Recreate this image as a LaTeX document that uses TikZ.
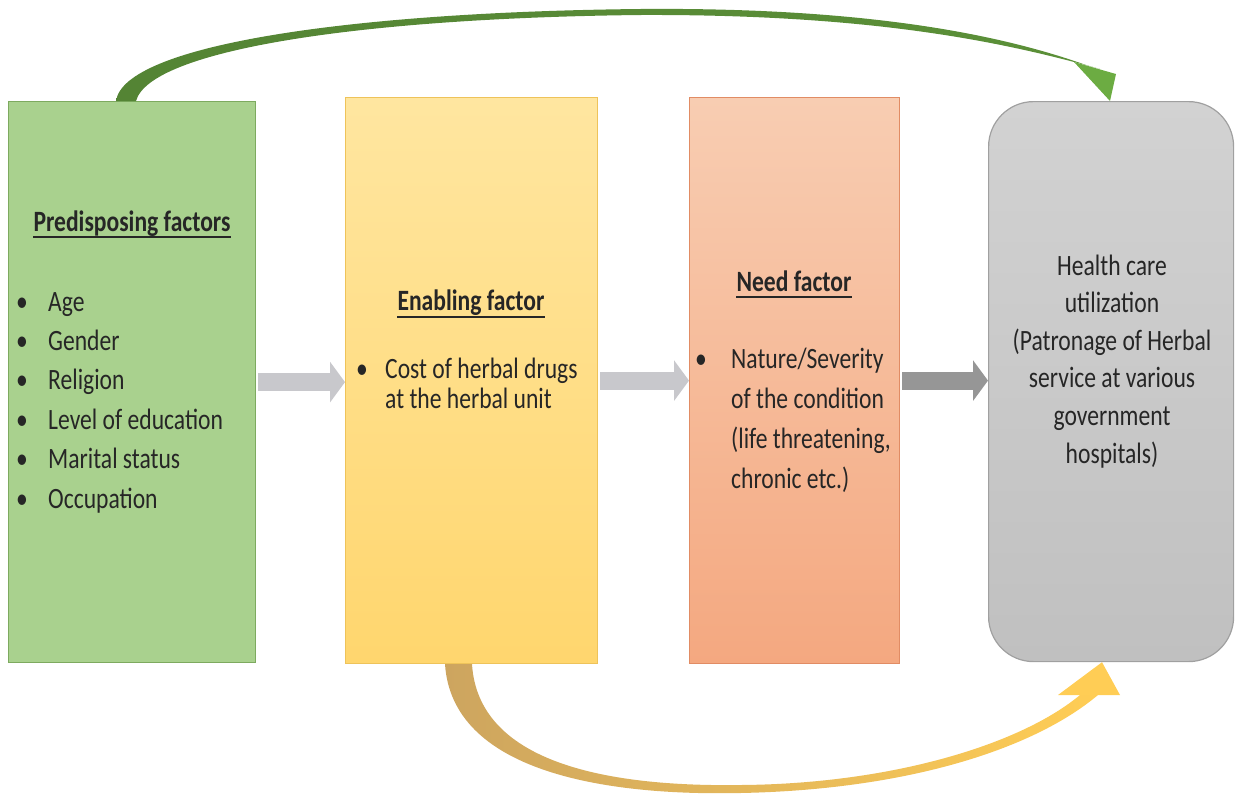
\documentclass[tikz,border=0pt]{standalone}
\usepackage{fontspec}
\setmainfont{Carlito}[FakeStretch=0.8]
\usetikzlibrary{arrows.meta, positioning, calc}
\definecolor{predfill}{RGB}{169,209,142}
\definecolor{preddraw}{RGB}{125,170,95}
\definecolor{enabtop}{RGB}{255,230,160}
\definecolor{enabbot}{RGB}{255,214,110}
\definecolor{enabdraw}{RGB}{238,195,90}
\definecolor{needtop}{RGB}{248,205,178}
\definecolor{needbot}{RGB}{244,168,128}
\definecolor{needdraw}{RGB}{225,140,100}
\definecolor{utiltop}{RGB}{210,210,210}
\definecolor{utilbot}{RGB}{192,192,192}
\definecolor{utildraw}{RGB}{160,160,160}
\definecolor{linkgray}{RGB}{200,200,204}
\definecolor{linkdark}{RGB}{150,150,150}
\definecolor{arcgreen}{RGB}{84,132,52}
\definecolor{arcgreenhead}{RGB}{108,172,66}
\definecolor{arctan}{RGB}{205,165,95}
\definecolor{arcgold}{RGB}{255,205,85}
\definecolor{txt}{RGB}{38,38,38}

\begin{document}
\begin{tikzpicture}[x=1pt, y=-1pt,
    box/.style={draw, line width=1.2pt, inner sep=0pt, anchor=north west},
    head/.style={font=\bfseries\fontsize{29.5}{34}\selectfont, text=txt, inner sep=0pt, anchor=base},
    item/.style={font=\fontsize{29.5}{34}\selectfont, text=txt, inner sep=0pt, anchor=base west},
    dot/.style={item, anchor=base},
    line/.style={item, anchor=base},
    link/.style={line width=18pt, linkgray, -{Triangle[length=15pt, width=40pt]}, shorten <=2pt},
    uline/.style={line width=1.8pt, txt},
]
\useasboundingbox (0,0) rectangle (1236,796);

% ===== boxes =====
\node[box, fill=predfill, draw=preddraw, minimum width=247pt, minimum height=561pt] (pred) at (8,101) {};
\node[box, top color=enabtop, bottom color=enabbot, draw=enabdraw, minimum width=252pt, minimum height=566pt] (enab) at (345,97) {};
\node[box, top color=needtop, bottom color=needbot, draw=needdraw, minimum width=210pt, minimum height=566pt] (need) at (689,97) {};
\node[box, top color=utiltop, bottom color=utilbot, draw=utildraw, rounded corners=45pt, minimum width=245pt, minimum height=560pt] (util) at (988,101) {};

% ===== Predisposing factors =====
\node[head] (predhead) at (132,231) {Predisposing factors};
\draw[uline] ($(predhead.base west)+(0,6)$) -- ($(predhead.base east)+(0,6)$);
\foreach \entry [count=\i from 0] in {Age, Gender, Religion, Level of education, Marital status, Occupation}{
  \node[dot] (predb\i) at (22, 311+39.4*\i) {\textbullet};
  \node[item] (predi\i) at (48, 311+39.4*\i) {\entry};
}

% ===== Enabling factor =====
\node[head] (enabhead) at (471,310) {Enabling factor};
\draw[uline] ($(enabhead.base west)+(0,7)$) -- ($(enabhead.base east)+(0,7)$);
\node[dot] (enabb) at (362,378) {\textbullet};
\foreach \entry [count=\i from 0] in {Cost of herbal drugs, at the herbal unit}{
  \node[item] (enabi\i) at (385, 378+30.5*\i) {\entry};
}

% ===== Need factor =====
\node[head] (needhead) at (794,291) {Need factor};
\draw[uline] ($(needhead.base west)+(0,6)$) -- ($(needhead.base east)+(0,6)$);
\node[dot] (needb) at (701,368) {\textbullet};
\foreach \entry [count=\i from 0] in {{Nature/Severity}, {of the condition}, {(life threatening,}, {chronic etc.)}}{
  \node[item] (needi\i) at (731, 368+40*\i) {\entry};
}

% ===== Health care utilization =====
\foreach \entry [count=\i from 0] in {{Health care}, {utilization}, {(Patronage of Herbal}, {service at various}, {government}, {hospitals)}}{
  \node[line] (utili\i) at (1112, 275+37.6*\i) {\entry};
}

% ===== block arrows =====
\draw[link] (pred.east) -- (pred.east -| enab.west);
\draw[link] (enab.east) -- (enab.east -| need.west);
\draw[link, linkdark] (need.east) -- (need.east -| util.west);

% ===== top arc: predisposing -> utilization =====
\coordinate (topA) at ($(pred.north west)+(108,0)$);
\coordinate (topB) at ($(pred.north west)+(128,0)$);
\coordinate (topT) at ($(util.north west)+(122,0)$);
\shade[left color=arcgreen, right color=arcgreen!70!arcgreenhead]
  (topA) .. controls (124,45) and (350,12) .. (640,9)
  .. controls (880,7) and (1010,38) .. (1086,65) -- (1100,69)
  .. controls (1010,44) and (880,14) .. (640,15)
  .. controls (360,18) and (150,50) .. (topB) -- cycle;
\fill[arcgreenhead] (1074,62) -- (1116,74) -- (topT) -- cycle;

% ===== bottom arc: enabling -> utilization =====
\coordinate (botA) at ($(enab.south west)+(100,0)$);
\coordinate (botB) at ($(enab.south west)+(127,0)$);
\coordinate (botT) at ($(util.south west)+(114,0)$);
\shade[left color=arctan, right color=arcgold]
  (botA) .. controls (452,770) and (600,796) .. (740,793)
  .. controls (900,790) and (1030,752) .. (1098,695) -- (1080,695)
  .. controls (1020,745) and (890,784) .. (740,785)
  .. controls (600,787) and (478,760) .. (botB) -- cycle;
\fill[arcgold] (1058,695) -- (botT) -- (1120,695) -- cycle;

\end{tikzpicture}
\end{document}
